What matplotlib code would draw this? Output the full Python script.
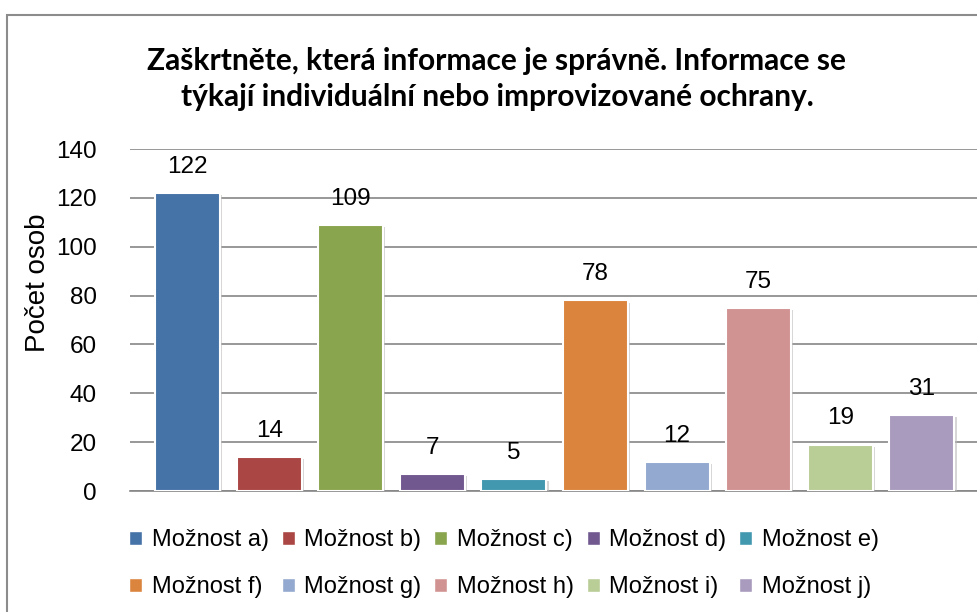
import matplotlib
matplotlib.use("Agg")
import matplotlib.pyplot as plt
from matplotlib.patches import Patch, Rectangle
import matplotlib.patheffects as pe

categories = ["Možnost a)", "Možnost b)", "Možnost c)", "Možnost d)", "Možnost e)",
              "Možnost f)", "Možnost g)", "Možnost h)", "Možnost i)", "Možnost j)"]
values = [122, 14, 109, 7, 5, 78, 12, 75, 19, 31]
colors = ["#4572A7", "#AA4643", "#89A54E", "#71588F", "#4198AF",
          "#DB843D", "#93A9CF", "#D19392", "#B9CD96", "#A99BBD"]
yticks = [0, 20, 40, 60, 80, 100, 120, 140]
title = "Zaškrtněte, která informace je správně. Informace se\ntýkají individuální nebo improvizované ochrany."
ylabel = "Počet osob"

W, H = 977, 612
fig = plt.figure(figsize=(W / 100, H / 100), dpi=100)
body = ["Liberation Sans", "DejaVu Sans"]

# outer border
fig.add_artist(Rectangle((7 / W, -0.05), 1.1, 1 - 15 / H + 0.05, transform=fig.transFigure,
                         fill=False, edgecolor="#8c8c8c", linewidth=1.5))

ax = fig.add_axes([130 / W, 121 / H, (977 - 130) / W, (491 - 149) / H])
x = list(range(len(values)))
bars = ax.bar(x, values, width=0.797, color=colors, edgecolor="white", linewidth=1.5, zorder=3)
for b in bars:
    b.set_path_effects([pe.SimplePatchShadow(offset=(1.5, -1.5), shadow_rgbFace="#bbbbbb", alpha=0.6), pe.Normal()])
for xi, v in zip(x, values):
    ax.text(xi, v + 10.7, str(v), ha="center", va="center", fontsize=17.5, family=body, zorder=4)

ax.set_xlim(-0.705, 9.675)
ax.set_ylim(0, 140)
ax.set_yticks(yticks)
ax.set_xticks([])
ax.tick_params(axis="y", length=0, pad=24, labelsize=17.5)
for lab in ax.get_yticklabels():
    lab.set_family(body)
ax.grid(axis="y", color="#868686", linewidth=1.2, zorder=0)
for s in ["top", "right", "left"]:
    ax.spines[s].set_visible(False)
ax.spines["bottom"].set_color("#868686")
ax.spines["bottom"].set_linewidth(1.2)

fig.text(38 / W, 1 - 283 / H, ylabel, rotation=90, ha="center", va="center", fontsize=20, family=body)
fig.text(497 / W, 1 - 79 / H, title, ha="center", va="center", fontsize=21.5, fontweight="bold",
         family=["Lato", "DejaVu Sans"], linespacing=1.35)

# legend filled row by row (matplotlib fills columns first)
nrow, ncol = 2, 5
order = [r * ncol + c for c in range(ncol) for r in range(nrow)]
handles = [Patch(facecolor=colors[i], edgecolor="white") for i in order]
labels = [categories[i] for i in order]
fig.legend(handles, labels, loc="upper center", bbox_to_anchor=(504 / W, 1 - 508 / H), ncol=ncol,
           frameon=False, prop={"family": body, "size": 17}, handlelength=0.55, handleheight=0.55,
           handletextpad=0.4, columnspacing=0.55, labelspacing=1.05)

fig.savefig("out.png", dpi=100)
